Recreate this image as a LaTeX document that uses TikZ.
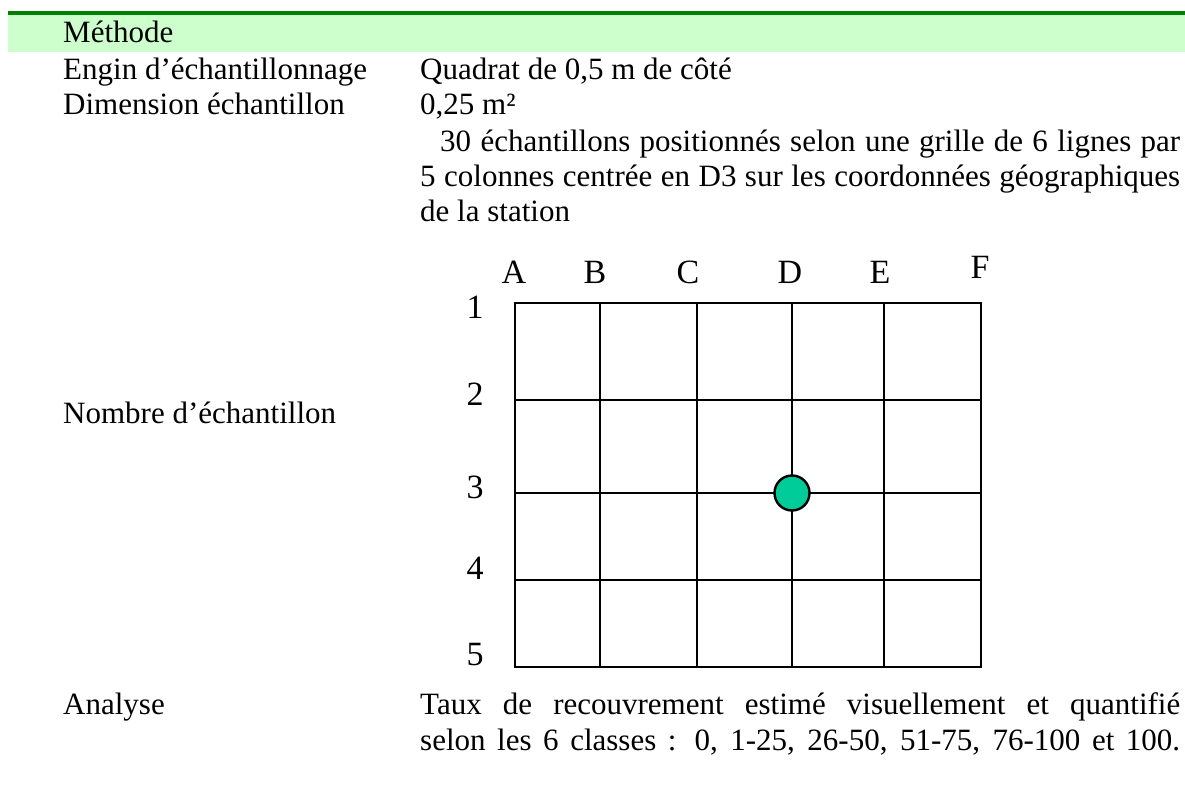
\documentclass[tikz,border=0pt]{standalone}
\usepackage{fontspec}
\setmainfont{Liberation Serif}
\definecolor{bandgreen}{HTML}{CCFFCC}
\definecolor{bargreen}{HTML}{008000}
\definecolor{dotgreen}{HTML}{00CC99}
\begin{document}
\begin{tikzpicture}[x=1pt,y=-1pt,
  body/.style={anchor=base west,inner sep=0pt,font=\fontsize{31}{36}\selectfont},
  glabel/.style={anchor=base,inner sep=0pt,font=\fontsize{34}{40}\selectfont},
  gridline/.style={line width=2.4pt,black}]
\useasboundingbox (0,0) rectangle (1185,789);
\fill[bandgreen] (8,15) rectangle (1185,52);
\draw[bargreen,line width=3.5pt] (8,13) -- (1185,13);
\node[body] (meth) at (63,43) {Méthode};
\node[body] (engin) at (63,80) {Engin d’échantillonnage};
\node[body] (quad) at (420,80) {Quadrat de 0,5 m de côté};
\node[body] (dim) at (63,115) {Dimension échantillon};
\node[body] (surf) at (420,115) {0,25 m²};
\node[body] (para1) at (440,151) {\makebox[740pt][s]{30 échantillons positionnés selon une grille de 6 lignes par}};
\node[body] (para2) at (420,186) {\makebox[760pt][s]{5 colonnes centrée en D3 sur les coordonnées géographiques}};
\node[body] (para3) at (420,221) {de la station};
\node[body] (nombre) at (63,423) {Nombre d’échantillon};
\node[body] (analyse) at (63,714) {Analyse};
\node[body] (taux1) at (420,714) {\makebox[760pt][s]{Taux de recouvrement estimé visuellement et quantifié}};
\node[body] (taux2) at (420,750) {\makebox[760pt][s]{selon les 6 classes : 0, 1-25, 26-50, 51-75, 76-100 et 100.}};
% grid
\draw[gridline] (515,303) rectangle (981,667);
\foreach \x in {600,697,792,884} \draw[gridline] (\x,303) -- (\x,667);
\foreach \y in {400,493,580} \draw[gridline] (515,\y) -- (981,\y);
\node[circle,draw=black,line width=2.4pt,fill=dotgreen,minimum size=35pt,inner sep=0pt] (dot) at (792,493) {};
% column labels
\node[glabel] (cA) at (514,283) {A};
\node[glabel] (cB) at (595,283) {B};
\node[glabel] (cC) at (688,283) {C};
\node[glabel] (cD) at (790,283) {D};
\node[glabel] (cE) at (880,283) {E};
\node[glabel] (cF) at (980,278) {F};
% row labels
\node[glabel] (r1) at (475,318) {1};
\node[glabel] (r2) at (475,405) {2};
\node[glabel] (r3) at (475,498) {3};
\node[glabel] (r4) at (475,579) {4};
\node[glabel] (r5) at (475,665) {5};
\end{tikzpicture}
\end{document}
